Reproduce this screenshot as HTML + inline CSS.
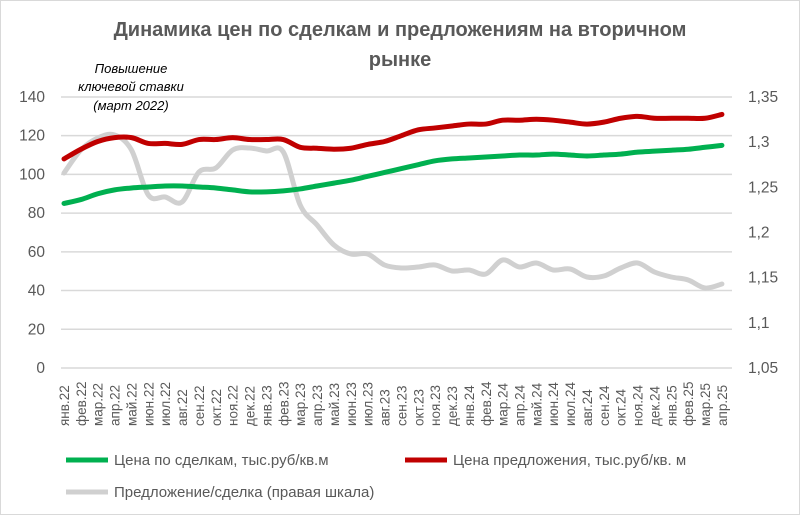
<!DOCTYPE html><html><head><meta charset="utf-8"><style>body{margin:0;background:#fff}svg{display:block;font-family:"Liberation Sans",sans-serif}</style></head><body>
<svg width="800" height="515" viewBox="0 0 800 515">
<rect x="0.5" y="0.5" width="799" height="514" fill="#fff" stroke="#d9d9d9"/>
<text x="400" y="36" text-anchor="middle" font-size="20" font-weight="bold" fill="#595959">Динамика цен по сделкам и предложениям на вторичном</text>
<text x="400" y="66" text-anchor="middle" font-size="20" font-weight="bold" fill="#595959">рынке</text>
<g font-size="13" font-style="italic" fill="#000" text-anchor="middle"><text x="131" y="73">Повышение</text><text x="131" y="91">ключевой ставки</text><text x="131" y="110">(март 2022)</text></g>
<g stroke="#d9d9d9" stroke-width="1.5" id="g"></g>
<g font-size="15.5" fill="#595959" text-anchor="end" id="yl"></g>
<g font-size="15.5" fill="#595959" id="yr"></g>
<g font-size="13.5" fill="#595959" id="xl"></g>
<g fill="none" stroke-width="5" stroke-linejoin="round" stroke-linecap="round">
<path id="pg" stroke="#d0d0d0"/><path id="pr" stroke="#c00000"/><path id="pn" stroke="#00b050"/></g>
<g stroke-width="5"><line x1="66" y1="460" x2="108" y2="460" stroke="#00b050"/><line x1="405" y1="460" x2="447" y2="460" stroke="#c00000"/><line x1="66" y1="492" x2="108" y2="492" stroke="#d0d0d0"/></g>
<g font-size="15" fill="#595959"><text x="114" y="465">Цена по сделкам, тыс.руб/кв.м</text><text x="453" y="465">Цена предложения, тыс.руб/кв. м</text><text x="114" y="497">Предложение/сделка (правая шкала)</text></g>
</svg>
<script>
const ns="http://www.w3.org/2000/svg";function el(p,t,a,tx){const e=document.createElementNS(ns,t);for(const k in a)e.setAttribute(k,a[k]);if(tx)e.textContent=tx;document.getElementById(p).appendChild(e);}
const Y=v=>368-v*1.936;
for(let i=0;i<=7;i++){const y=Y(i*20);el('g','line',{x1:61,x2:732,y1:y,y2:y});el('yl','text',{x:45,y:y+5},String(i*20));}
const rl=['1,05','1,1','1,15','1,2','1,25','1,3','1,35'];
for(let i=0;i<7;i++){el('yr','text',{x:748,y:368-i*45.17+5},rl[i]);}
const m=['янв','фев','мар','апр','май','июн','июл','авг','сен','окт','ноя','дек'];
const X=i=>64+i*16.87;
for(let i=0;i<40;i++){const yr=22+Math.floor(i/12);el('xl','text',{transform:`translate(${X(i)+5},426) rotate(-90)`},m[i%12]+'.'+yr);}
const G=[85,87,90,92,93,93.5,94,94,93.5,93,92,91,91,91.5,92.5,94,95.5,97,99,101,103,105,107,108,108.5,109,109.5,110,110,110.5,110,109.5,110,110.5,111.5,112,112.5,113,114,115];
const R=[108,113,117,119,119,116,116,115.5,118,118,119,118,118,118,114,113.5,113,113.5,115.5,117,120,123,124,125,126,126,128,128,128.5,128,127,126,127,129,130,129,129,129,129,131];
const P=[173,150,138,135,150,195,197,202,172,168,150,148,151,152,205,225,245,254,254,265,268,267,265,271,270,274,260,267,263,270,269,277,276,268,263,272,277,280,288,284];
function sm(pts){let d=`M${pts[0][0]},${pts[0][1]}`;for(let i=0;i<pts.length-1;i++){const p0=pts[i-1]||pts[i],p1=pts[i],p2=pts[i+1],p3=pts[i+2]||p2;d+=` C${p1[0]+(p2[0]-p0[0])/6},${p1[1]+(p2[1]-p0[1])/6} ${p2[0]-(p3[0]-p1[0])/6},${p2[1]-(p3[1]-p1[1])/6} ${p2[0]},${p2[1]}`;}return d;}
document.getElementById('pn').setAttribute('d',sm(G.map((v,i)=>[X(i),Y(v)])));
document.getElementById('pr').setAttribute('d',sm(R.map((v,i)=>[X(i),Y(v)])));
document.getElementById('pg').setAttribute('d',sm(P.map((v,i)=>[X(i),v])));
</script></body></html>
